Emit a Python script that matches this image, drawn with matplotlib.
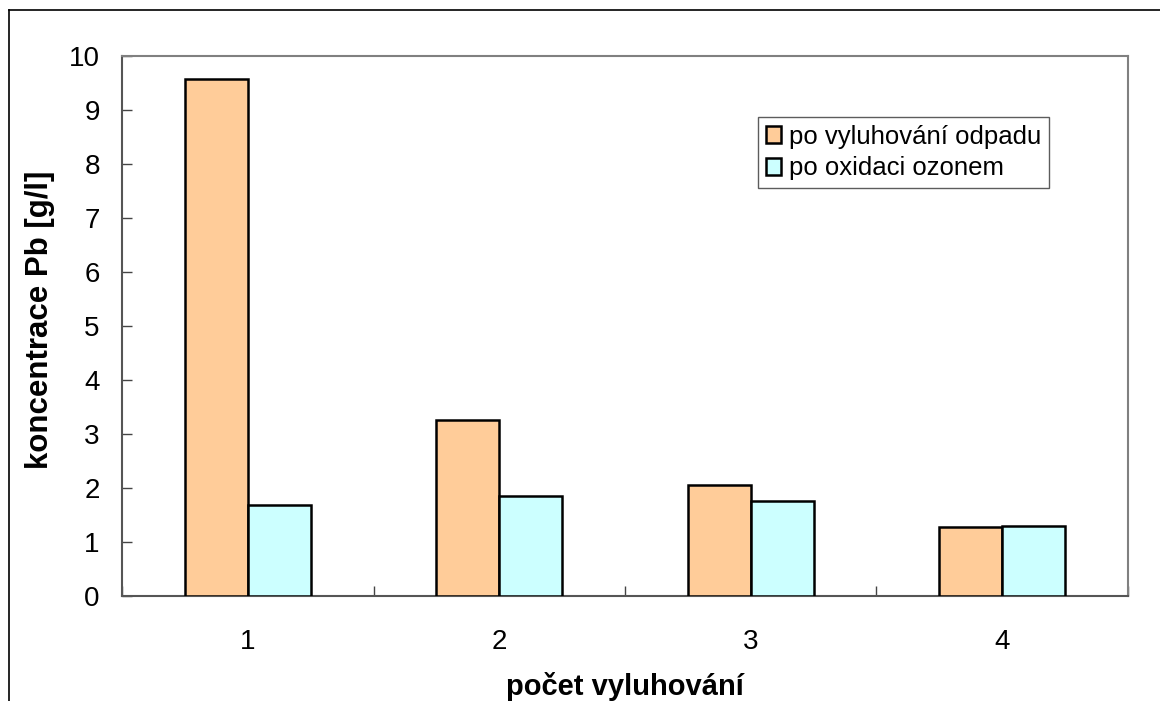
import numpy as np
import matplotlib
matplotlib.use("Agg")
import matplotlib.pyplot as plt
from matplotlib.lines import Line2D

plt.rcParams['font.family'] = ['Liberation Sans', 'DejaVu Sans']

# leaching runs and measured Pb concentration [g/l]
categories = ['1', '2', '3', '4']
po_vyluhovani = [9.57, 3.25, 2.05, 1.27]
po_oxidaci = [1.68, 1.86, 1.76, 1.30]
series_names = ['po vyluhování odpadu', 'po oxidaci ozonem']
y_ticks = list(range(0, 11))

fig = plt.figure(figsize=(11.6, 7.01), dpi=100)
ax = fig.add_axes([0.1052, 0.1498, 0.8672, 0.7703])

x = np.arange(len(categories))
w = 0.25
ax.bar(x - w / 2, po_vyluhovani, w, color='#FFCC99', edgecolor='black',
       linewidth=1.8, label=series_names[0], zorder=3)
ax.bar(x + w / 2, po_oxidaci, w, color='#CCFFFF', edgecolor='black',
       linewidth=1.8, label=series_names[1], zorder=3)

ax.set_xlim(-0.5, len(categories) - 0.5)
ax.set_ylim(0, 10)
ax.set_yticks(y_ticks)
ax.set_yticklabels([str(t) for t in y_ticks], fontsize=20)

# category labels centred, tick marks between the groups
ax.set_xticks(np.arange(-0.5, len(categories)), minor=False)
ax.set_xticklabels([''] * (len(categories) + 1))
ax.set_xticks(x, minor=True)
ax.set_xticklabels(categories, minor=True, fontsize=20)
ax.tick_params(axis='x', which='minor', length=0, pad=24)
ax.tick_params(axis='x', which='major', direction='in', length=7,
               width=1, color='#444444')
ax.tick_params(axis='y', direction='in', length=7, width=1,
               color='#444444', pad=16)

for s in ax.spines.values():
    s.set_color('#808080')
    s.set_linewidth(1.5)
ax.spines['left'].set_color('#555555')
ax.spines['bottom'].set_color('#555555')

fig.text(0.0345, 0.5435, 'koncentrace Pb [g/l]', rotation=90, fontsize=22.5,
         fontweight='bold', ha='center', va='center')
fig.text(0.539, 0.020, 'počet vyluhování', fontsize=21,
         fontweight='bold', ha='center', va='center')

leg = ax.legend(loc='upper left', bbox_to_anchor=(0.6534, 0.8331),
                bbox_transform=fig.transFigure, fontsize=18.5, frameon=True,
                fancybox=False, shadow=False, handlelength=0.6,
                handleheight=0.6, handletextpad=0.3, borderpad=0.3,
                labelspacing=0.3, borderaxespad=0)
leg.get_frame().set_edgecolor('#333333')
leg.get_frame().set_linewidth(1.0)

# chart frame: left and top edges only
fig.add_artist(Line2D([8.5 / 1160, 8.5 / 1160], [0, 1 - 9.5 / 701],
                      transform=fig.transFigure, color='black', lw=1.2))
fig.add_artist(Line2D([8.5 / 1160, 1], [1 - 9.5 / 701, 1 - 9.5 / 701],
                      transform=fig.transFigure, color='black', lw=1.2))

fig.savefig('out.png', dpi=100)
